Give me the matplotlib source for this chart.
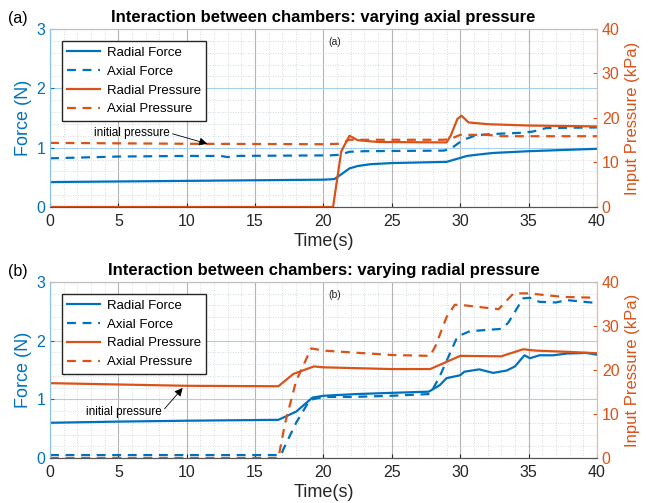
import matplotlib
matplotlib.use("Agg")
import matplotlib.pyplot as plt
from matplotlib.ticker import MultipleLocator

plt.rcParams['font.family'] = ['Liberation Sans', 'DejaVu Sans']

BLUE = '#0072BD'
ORANGE = '#D95319'

# ---- panel (a): varying axial pressure ----
a_rf_t = [0, 5, 10, 15, 20, 20.8, 21.3, 21.9, 22.5, 23.4, 25, 27, 29, 29.6, 30.5, 31.2, 32.4, 35, 37.5, 40]
a_rf = [0.42, 0.43, 0.44, 0.45, 0.46, 0.47, 0.55, 0.65, 0.69, 0.72, 0.74, 0.75, 0.76, 0.80, 0.86, 0.88, 0.91, 0.94, 0.96, 0.98]

a_af_t = [0, 5, 10, 12.5, 13, 13.5, 20.5, 21.2, 21.9, 23, 28.8, 29.3, 30.2, 31.2, 32.4, 34.5, 35.3, 36.3, 40]
a_af = [0.82, 0.85, 0.86, 0.86, 0.84, 0.86, 0.87, 0.88, 0.93, 0.94, 0.95, 0.98, 1.13, 1.21, 1.23, 1.25, 1.27, 1.33, 1.34]

a_rp_t = [0, 20.7, 21.3, 21.9, 22.5, 24, 29, 29.3, 29.8, 30.1, 30.6, 32, 35, 40]
a_rp = [0, 0, 12.5, 16.0, 15.0, 14.6, 14.5, 16.0, 19.8, 20.5, 19.0, 18.6, 18.3, 18.1]

a_ap_t = [0, 10, 20, 21.2, 21.9, 28.8, 29.3, 30, 32, 33, 40]
a_ap = [14.4, 14.2, 14.1, 14.2, 15.1, 15.1, 15.3, 16.2, 16.2, 15.9, 15.9]

# ---- panel (b): varying radial pressure ----
b_rf_t = [0, 5, 10, 16.7, 18.0, 19.2, 20, 22.5, 25, 27.7, 28.5, 29, 30, 30.3, 31.4, 32.4, 33.4, 34, 34.7, 35.1, 35.8, 36.8, 37.8, 39.2, 40]
b_rf = [0.60, 0.62, 0.635, 0.65, 0.79, 1.03, 1.06, 1.09, 1.11, 1.13, 1.24, 1.36, 1.41, 1.47, 1.51, 1.45, 1.49, 1.56, 1.75, 1.70, 1.75, 1.75, 1.78, 1.79, 1.76]

b_af_t = [0, 16.9, 17.05, 18, 19, 20, 22, 25, 27.8, 28.5, 29.8, 30.7, 33, 33.5, 34.6, 35.1, 35.8, 37, 37.8, 40]
b_af = [0.05, 0.05, 0.14, 0.6, 0.99, 1.04, 1.04, 1.06, 1.09, 1.39, 2.07, 2.16, 2.2, 2.3, 2.72, 2.73, 2.66, 2.65, 2.69, 2.64]

b_rp_t = [0, 10, 16.7, 17.8, 19.3, 20, 25, 27.8, 30, 33, 34.6, 35.5, 38, 40]
b_rp = [17.0, 16.4, 16.3, 19.1, 20.8, 20.6, 20.2, 20.2, 23.2, 23.1, 24.7, 24.4, 24.1, 23.8]

b_ap_t = [0, 16.7, 17.2, 18, 19.1, 20, 25, 27.8, 28.2, 29, 29.6, 30, 32.8, 33.9, 35, 37.5, 40]
b_ap = [0, 0, 8, 17.5, 24.9, 24.4, 23.4, 23.2, 25.5, 32, 34.8, 34.8, 33.8, 37.4, 37.4, 36.6, 36.4]

panels = [
    dict(pos=[0.0772, 0.5885, 0.844, 0.354], tag='(a)',
         title='Interaction between chambers: varying axial pressure',
         rf=(a_rf_t, a_rf), af=(a_af_t, a_af), rp=(a_rp_t, a_rp), ap=(a_ap_t, a_ap),
         note_xy=(94, 133), arrow_tip=(11.5, 14.2)),
    dict(pos=[0.0772, 0.0895, 0.844, 0.350], tag='(b)',
         title='Interaction between chambers: varying radial pressure',
         rf=(b_rf_t, b_rf), af=(b_af_t, b_af), rp=(b_rp_t, b_rp), ap=(b_ap_t, b_ap),
         note_xy=(86, 412), arrow_tip=(9.7, 15.9)),
]

fig = plt.figure(figsize=(6.48, 5.03), dpi=100)

for p in panels:
    ax = fig.add_axes(p['pos'])
    ax2 = ax.twinx()

    # grid
    ax.set_xlim(0, 40)
    ax.set_ylim(0, 3)
    ax2.set_ylim(0, 40)
    ax.xaxis.set_major_locator(MultipleLocator(5))
    ax.xaxis.set_minor_locator(MultipleLocator(1))
    ax.yaxis.set_major_locator(MultipleLocator(1))
    ax.yaxis.set_minor_locator(MultipleLocator(0.2))
    ax2.yaxis.set_major_locator(MultipleLocator(10))
    ax2.yaxis.set_minor_locator(MultipleLocator(2))
    ax.grid(True, axis='x', which='major', color='#b4b4b4', lw=0.8)
    ax.grid(True, axis='y', which='major', color='#a8d0ec', lw=0.8)
    ax.grid(True, axis='both', which='minor', color='#c4d0d8', lw=0.6, ls=(0, (1, 2)))

    l1, = ax.plot(*p['rf'], color=BLUE, lw=1.6, label='Radial Force')
    l2, = ax.plot(*p['af'], color=BLUE, lw=1.6, ls=(0, (4, 3)), label='Axial Force')
    l3, = ax2.plot(*p['rp'], color=ORANGE, lw=1.6, label='Radial Pressure')
    l4, = ax2.plot(*p['ap'], color=ORANGE, lw=1.6, ls=(0, (4, 3)), label='Axial Pressure')

    # ticks / spines
    ax.tick_params(axis='x', which='both', direction='in', colors='#262626', labelsize=11.5,
                   length=3, pad=5)
    ax.tick_params(axis='x', which='minor', length=0)
    ax.tick_params(axis='y', which='major', direction='in', colors=BLUE, labelsize=11.5, length=3)
    ax.tick_params(axis='y', which='minor', length=0)
    ax2.tick_params(axis='y', which='major', direction='in', colors=ORANGE, labelsize=11.5, length=3)
    ax2.tick_params(axis='y', which='minor', length=0)
    for a in (ax, ax2):
        a.spines['left'].set_color('#8fc1e3')
        a.spines['right'].set_color('#f2b9a0')
        a.spines['top'].set_color('#c0c0c0')
        a.spines['bottom'].set_color('#555555')
        for s in a.spines.values():
            s.set_linewidth(0.8)

    ax.set_ylabel('Force (N)', color=BLUE, fontsize=13, labelpad=3)
    ax2.set_ylabel('Input Pressure (kPa)', color=ORANGE, fontsize=12, labelpad=4)
    ax.set_xlabel('Time(s)', fontsize=13, color='#262626', labelpad=3)
    ax.set_title(p['title'], fontsize=12, fontweight='bold', pad=5)
    ax.text(-0.077, 1.06, p['tag'], transform=ax.transAxes, fontsize=11.5, ha='left', va='center')
    ax.text(20.8, 2.78, p['tag'], fontsize=7.5, ha='center', va='center', color='#262626')

    # "initial pressure" note with arrow
    nx, ny = p['note_xy']
    ax2.annotate('initial pressure', xy=p['arrow_tip'], xycoords='data',
                 xytext=(fig.transFigure.inverted().transform((nx, 503 - ny))),
                 textcoords='figure fraction', fontsize=8.5, va='center', ha='left',
                 arrowprops=dict(arrowstyle='-|>', color='black', lw=0.6,
                                 mutation_scale=12, shrinkA=0, shrinkB=0,
                                 relpos=(1.0, 0.5)))

    ax2.legend(handles=[l1, l2, l3, l4], loc='upper left', bbox_to_anchor=(0.022, 0.93),
               borderaxespad=0, fontsize=9.5, handlelength=2.5, handletextpad=0.5,
               frameon=True, fancybox=False, edgecolor='#262626', framealpha=1,
               labelspacing=0.5)

fig.savefig('out.png', dpi=100)
